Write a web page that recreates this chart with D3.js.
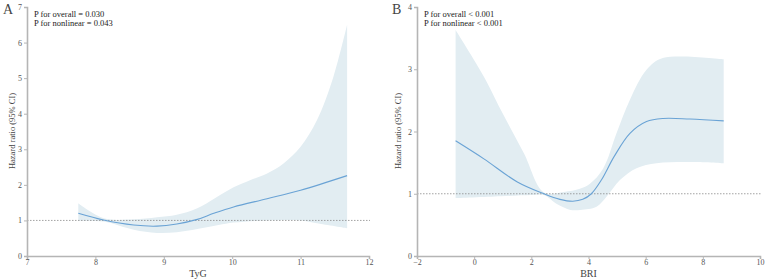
<!DOCTYPE html>
<html>
<head>
    <meta charset="utf-8">
    <title>RCS hazard ratio</title>
    <script src="https://d3js.org/d3.v7.min.js"></script>
    <style>
        html, body {
            margin: 0;
            background: white;
        }

        svg text {
            font-family: "Liberation Serif", "Times New Roman", serif;
        }
    </style>
</head>
<body>
    <svg id="svg"></svg>
    <script>
        // Panel A: TyG
        const tygX = [7.75, 8.12, 8.56, 8.9, 9.19, 9.49, 9.73, 10.02, 10.51, 11.0, 11.68];
        const tygHR = [1.20, 1.01, 0.87, 0.84, 0.90, 1.03, 1.20, 1.38, 1.61, 1.85, 2.26];
        const tygLowX = [7.75, 8.12, 8.56, 8.9, 9.19, 9.49, 9.8, 10.02, 10.51, 11.0, 11.24, 11.68];
        const tygLow = [0.99, 0.97, 0.74, 0.65, 0.67, 0.76, 0.87, 0.94, 1.0, 1.0, 0.92, 0.78];
        const tygUpX = [7.75, 8.12, 8.56, 8.9, 9.19, 9.49, 10.02, 10.26, 10.51, 10.75, 11.0, 11.24, 11.48, 11.68];
        const tygUp = [1.48, 1.06, 1.03, 1.09, 1.16, 1.34, 1.93, 2.13, 2.32, 2.60, 3.07, 3.82, 5.04, 6.5];

        // Panel B: BRI
        const briX = [-0.65, 0.34, 1.51, 2.44, 3.0, 3.45, 3.8, 4.1, 4.45, 4.9, 5.45, 6.03, 6.61, 7.55, 8.73];
        const briHR = [1.85, 1.56, 1.19, 1.0, 0.91, 0.88, 0.91, 1.0, 1.22, 1.60, 1.97, 2.16, 2.21, 2.20, 2.17];
        const briLowX = [-0.65, 0.93, 2.0, 2.44, 2.91, 3.37, 3.72, 4.28, 4.63, 5.1, 5.68, 6.38, 7.55, 8.73];
        const briLow = [0.93, 0.96, 0.98, 0.98, 0.83, 0.74, 0.74, 0.79, 0.95, 1.22, 1.41, 1.49, 1.51, 1.49];
        const briUpX = [-0.65, 0.34, 0.93, 1.74, 2.44, 3.14, 3.7, 4.05, 4.51, 4.98, 5.45, 6.03, 6.6, 8.73];
        const briUp = [3.63, 2.88, 2.35, 1.65, 1.02, 1.03, 1.08, 1.16, 1.40, 1.97, 2.51, 2.99, 3.18, 3.16];

        const tygTicksX = [7, 8, 9, 10, 11, 12];
        const tygTicksY = [0, 1, 2, 3, 4, 5, 6, 7];
        const briTicksX = [-2, 0, 2, 4, 6, 8, 10];
        const briTicksY = [0, 1, 2, 3, 4];

        const width = 767, height = 280;
        const svg = d3.select("#svg").attr("width", width).attr("height", height);

        const lineColor = "#6aa3d5";
        const bandColor = "#e2edf2";
        const axisColor = "#b5b5b5";

        function panel(cfg) {
            const x = d3.scaleLinear().domain(cfg.xDomain).range(cfg.xRange);
            const y = d3.scaleLinear().domain(cfg.yDomain).range([256, 7]);
            const g = svg.append("g");
            const curve = d3.curveCatmullRom.alpha(0.5);

            // band: upper forward, lower backward
            const upPts = cfg.upX.map((v, i) => [x(v), y(cfg.up[i])]);
            const lowPts = cfg.lowX.map((v, i) => [x(v), y(cfg.low[i])]);
            const upPath = d3.line().curve(curve)(upPts);
            const lowPath = d3.line().curve(curve)(lowPts.slice().reverse());
            g.append("path")
                .attr("d", upPath + "L" + lowPath.slice(1) + "Z")
                .attr("fill", bandColor);

            // reference line at HR = 1
            g.append("line")
                .attr("x1", cfg.xRange[0]).attr("x2", cfg.xRange[1] + 1)
                .attr("y1", y(1)).attr("y2", y(1))
                .attr("stroke", "#8c8c8c")
                .attr("stroke-width", 0.8)
                .attr("stroke-dasharray", "1.5,1.5");

            g.append("path")
                .datum(cfg.lineX.map((v, i) => [v, cfg.hr[i]]))
                .attr("fill", "none")
                .attr("stroke", lineColor)
                .attr("stroke-width", 1.1)
                .attr("d", d3.line().curve(curve).x(d => x(d[0])).y(d => y(d[1])));

            const xAxis = g.append("g")
                .attr("transform", `translate(0, 256)`)
                .call(d3.axisBottom(x).tickValues(cfg.ticksX).tickFormat(d3.format("d")).tickSize(3).tickPadding(0));
            const yAxis = g.append("g")
                .attr("transform", `translate(${cfg.xRange[0]}, 0)`)
                .call(d3.axisLeft(y).tickValues(cfg.ticksY).tickFormat(d3.format("d")).tickSize(3).tickPadding(2));

            [xAxis, yAxis].forEach(a => {
                a.select(".domain").attr("stroke", axisColor).attr("stroke-width", 1.6);
                a.selectAll(".tick line").attr("stroke", axisColor);
                a.selectAll(".tick text")
                    .attr("font-family", "Liberation Serif, serif")
                    .attr("font-size", 8)
                    .attr("fill", "#555");
            });

            g.append("text")
                .attr("x", (cfg.xRange[0] + cfg.xRange[1]) / 2)
                .attr("y", 277)
                .attr("text-anchor", "middle")
                .attr("font-size", 10)
                .attr("fill", "#444")
                .text(cfg.xLabel);

            g.append("text")
                .attr("transform", `translate(${cfg.yLabelX}, 131) rotate(-90)`)
                .attr("text-anchor", "middle")
                .attr("font-size", 8.5)
                .attr("fill", "#444")
                .text("Hazard ratio (95% CI)");

            g.append("text")
                .attr("x", cfg.letterX).attr("y", 14)
                .attr("font-size", 14)
                .attr("fill", "#444")
                .text(cfg.letter);

            g.append("text")
                .attr("x", cfg.xRange[0] + 7).attr("y", 17)
                .attr("font-size", 8.5)
                .attr("fill", "#222")
                .text(cfg.p1);
            g.append("text")
                .attr("x", cfg.xRange[0] + 7).attr("y", 26)
                .attr("font-size", 8.5)
                .attr("fill", "#222")
                .text(cfg.p2);
        }

        panel({
            xDomain: [7, 12], xRange: [27, 369], yDomain: [0, 7],
            lineX: tygX, hr: tygHR, lowX: tygLowX, low: tygLow, upX: tygUpX, up: tygUp,
            ticksX: tygTicksX, ticksY: tygTicksY,
            xLabel: "TyG", letter: "A", letterX: 3, yLabelX: 15,
            p1: "P for overall = 0.030", p2: "P for nonlinear = 0.043"
        });

        panel({
            xDomain: [-2, 10], xRange: [417, 760], yDomain: [0, 4],
            lineX: briX, hr: briHR, lowX: briLowX, low: briLow, upX: briUpX, up: briUp,
            ticksX: briTicksX, ticksY: briTicksY,
            xLabel: "BRI", letter: "B", letterX: 392, yLabelX: 401,
            p1: "P for overall < 0.001", p2: "P for nonlinear < 0.001"
        });
    </script>
</body>
</html>
